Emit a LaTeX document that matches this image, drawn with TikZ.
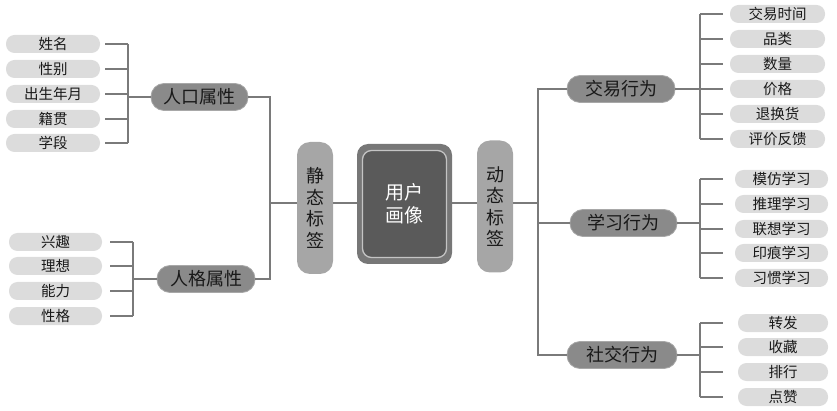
\documentclass[tikz,border=0pt]{standalone}
\usepackage{fontspec}
\setmainfont{Noto Sans CJK SC}
\definecolor{leafgray}{HTML}{DCDCDC}
\definecolor{midgray}{HTML}{8A8A8A}
\definecolor{midborder}{HTML}{A8A8A8}
\definecolor{taggray}{HTML}{A6A6A6}
\definecolor{coreout}{HTML}{777777}
\definecolor{corein}{HTML}{5A5A5A}
\definecolor{corering}{HTML}{C4C4C4}
\definecolor{linegray}{HTML}{7A7A7A}
\begin{document}
\begin{tikzpicture}[x=1pt,y=-1pt,
  leafbox/.style={fill=leafgray, rounded corners=8.5pt, minimum height=18pt, inner sep=0pt, font=\fontsize{14.5}{15}\selectfont, text=black!90},
  midbox/.style={fill=midgray, draw=midborder, line width=0.8pt, rounded corners=13pt, minimum width=107pt, minimum height=27pt, inner sep=0pt, font=\fontsize{18}{18}\selectfont, text=black!90},
  tagbox/.style={fill=taggray, rounded corners=13pt, minimum width=36pt, minimum height=132pt, inner sep=0pt, align=center, font=\fontsize{18}{21.5}\selectfont, text=black!90},
  conn/.style={draw=linegray, line width=1.2pt}
]
\useasboundingbox (0,0) rectangle (837,411);

% ---------- core ----------
\node[fill=coreout, rounded corners=11pt, minimum width=95pt, minimum height=120pt] (core) at (404.5,204) {};
\node[fill=corein, draw=corering, line width=1.3pt, rounded corners=9pt, minimum width=84pt, minimum height=107pt, align=center, text=white, font=\fontsize{19}{23}\selectfont] (corein) at (core.center) {用户\\画像};

% ---------- tags ----------
\node[tagbox] (tagL) at (315,208) {静\\态\\标\\签};
\node[tagbox] (tagR) at (495,206.5) {动\\态\\标\\签};

% ---------- left mids ----------
\node[midbox, minimum width=97pt] (p1) at (199.5,97) {人口属性};
\node[midbox, minimum width=98pt] (p2) at (206,279) {人格属性};

% ---------- right mids ----------
\node[midbox, minimum width=108pt] (m1) at (621,89) {交易行为};
\node[midbox] (m2) at (623.5,223) {学习行为};
\node[midbox, minimum width=110pt] (m3) at (622,355) {社交行为};

% ---------- left leaves group 1 ----------
\begin{scope}[every node/.style={leafbox, minimum width=94pt}]
\node (a1) at (53,44) {姓名};
\node (a2) at (53,69) {性别};
\node (a3) at (53,94) {出生年月};
\node (a4) at (53,119) {籍贯};
\node (a5) at (53,143) {学段};
\end{scope}
% ---------- left leaves group 2 ----------
\begin{scope}[every node/.style={leafbox, minimum width=93pt}]
\node (b1) at (55.5,242) {兴趣};
\node (b2) at (55.5,266) {理想};
\node (b3) at (55.5,291) {能力};
\node (b4) at (55.5,316) {性格};
\end{scope}
% ---------- right leaves group 1 ----------
\begin{scope}[every node/.style={leafbox, minimum width=95pt}]
\node (c1) at (777.5,14) {交易时间};
\node (c2) at (777.5,39) {品类};
\node (c3) at (777.5,64) {数量};
\node (c4) at (777.5,89) {价格};
\node (c5) at (777.5,114) {退换货};
\node (c6) at (777.5,139) {评价反馈};
\end{scope}
% ---------- right leaves group 2 ----------
\begin{scope}[every node/.style={leafbox, minimum width=93pt}]
\node (d1) at (781.5,179) {模仿学习};
\node (d2) at (781.5,204) {推理学习};
\node (d3) at (781.5,229) {联想学习};
\node (d4) at (781.5,253) {印痕学习};
\node (d5) at (781.5,278) {习惯学习};
\end{scope}
% ---------- right leaves group 3 ----------
\begin{scope}[every node/.style={leafbox, minimum width=90pt}]
\node (e1) at (783,323) {转发};
\node (e2) at (783,347) {收藏};
\node (e3) at (783,372) {排行};
\node (e4) at (783,397) {点赞};
\end{scope}

% ---------- bracket coordinates ----------
\coordinate (ba) at (128,97);
\coordinate (bb) at (133,279);
\coordinate (sL) at (270,203);
\coordinate (sR) at (538,203);
\coordinate (bc) at (700,89);
\coordinate (bd) at (700,223);
\coordinate (be) at (700,355);
\coordinate (rc) at (723,0);

% left group 1
\foreach \n in {a1,a2,a3,a4,a5}
  \draw[conn, shorten <=5pt] (\n.east) -- (\n.east -| ba);
\draw[conn] (a1.east -| ba) -- (a5.east -| ba);
\draw[conn] (ba) -- (p1.west);
% left group 2
\foreach \n in {b1,b2,b3,b4}
  \draw[conn, shorten <=8pt] (\n.east) -- (\n.east -| bb);
\draw[conn] (b1.east -| bb) -- (b4.east -| bb);
\draw[conn] (bb) -- (p2.west);
% left spine
\draw[conn] (p1.east) -- (p1.east -| sL) -- (p2.east -| sL) -- (p2.east);
\draw[conn] (sL) -- (tagL.west |- sL);
% core links
\draw[conn] (tagL.east |- sL) -- (core.west |- sL);
\draw[conn] (core.east |- sR) -- (tagR.west |- sR);
% right spine
\draw[conn] (tagR.east |- sR) -- (sR);
\draw[conn] (m1.west) -- (m1.west -| sR) -- (m3.west -| sR) -- (m3.west);
\draw[conn] (m2.west -| sR) -- (m2.west);
% right group 1
\draw[conn] (m1.east) -- (bc);
\draw[conn] (c1.west -| bc) -- (c6.west -| bc);
\foreach \n in {c1,c2,c3,c4,c5,c6}
  \draw[conn] (\n.west -| bc) -- (\n.west -| rc);
% right group 2
\draw[conn] (m2.east) -- (bd);
\draw[conn] (d1.west -| bd) -- (d5.west -| bd);
\foreach \n in {d1,d2,d3,d4,d5}
  \draw[conn] (\n.west -| bd) -- (\n.west -| rc);
% right group 3
\draw[conn] (m3.east) -- (be);
\draw[conn] (e1.west -| be) -- (e4.west -| be);
\foreach \n in {e1,e2,e3,e4}
  \draw[conn] (\n.west -| be) -- (\n.west -| rc);
\end{tikzpicture}
\end{document}
